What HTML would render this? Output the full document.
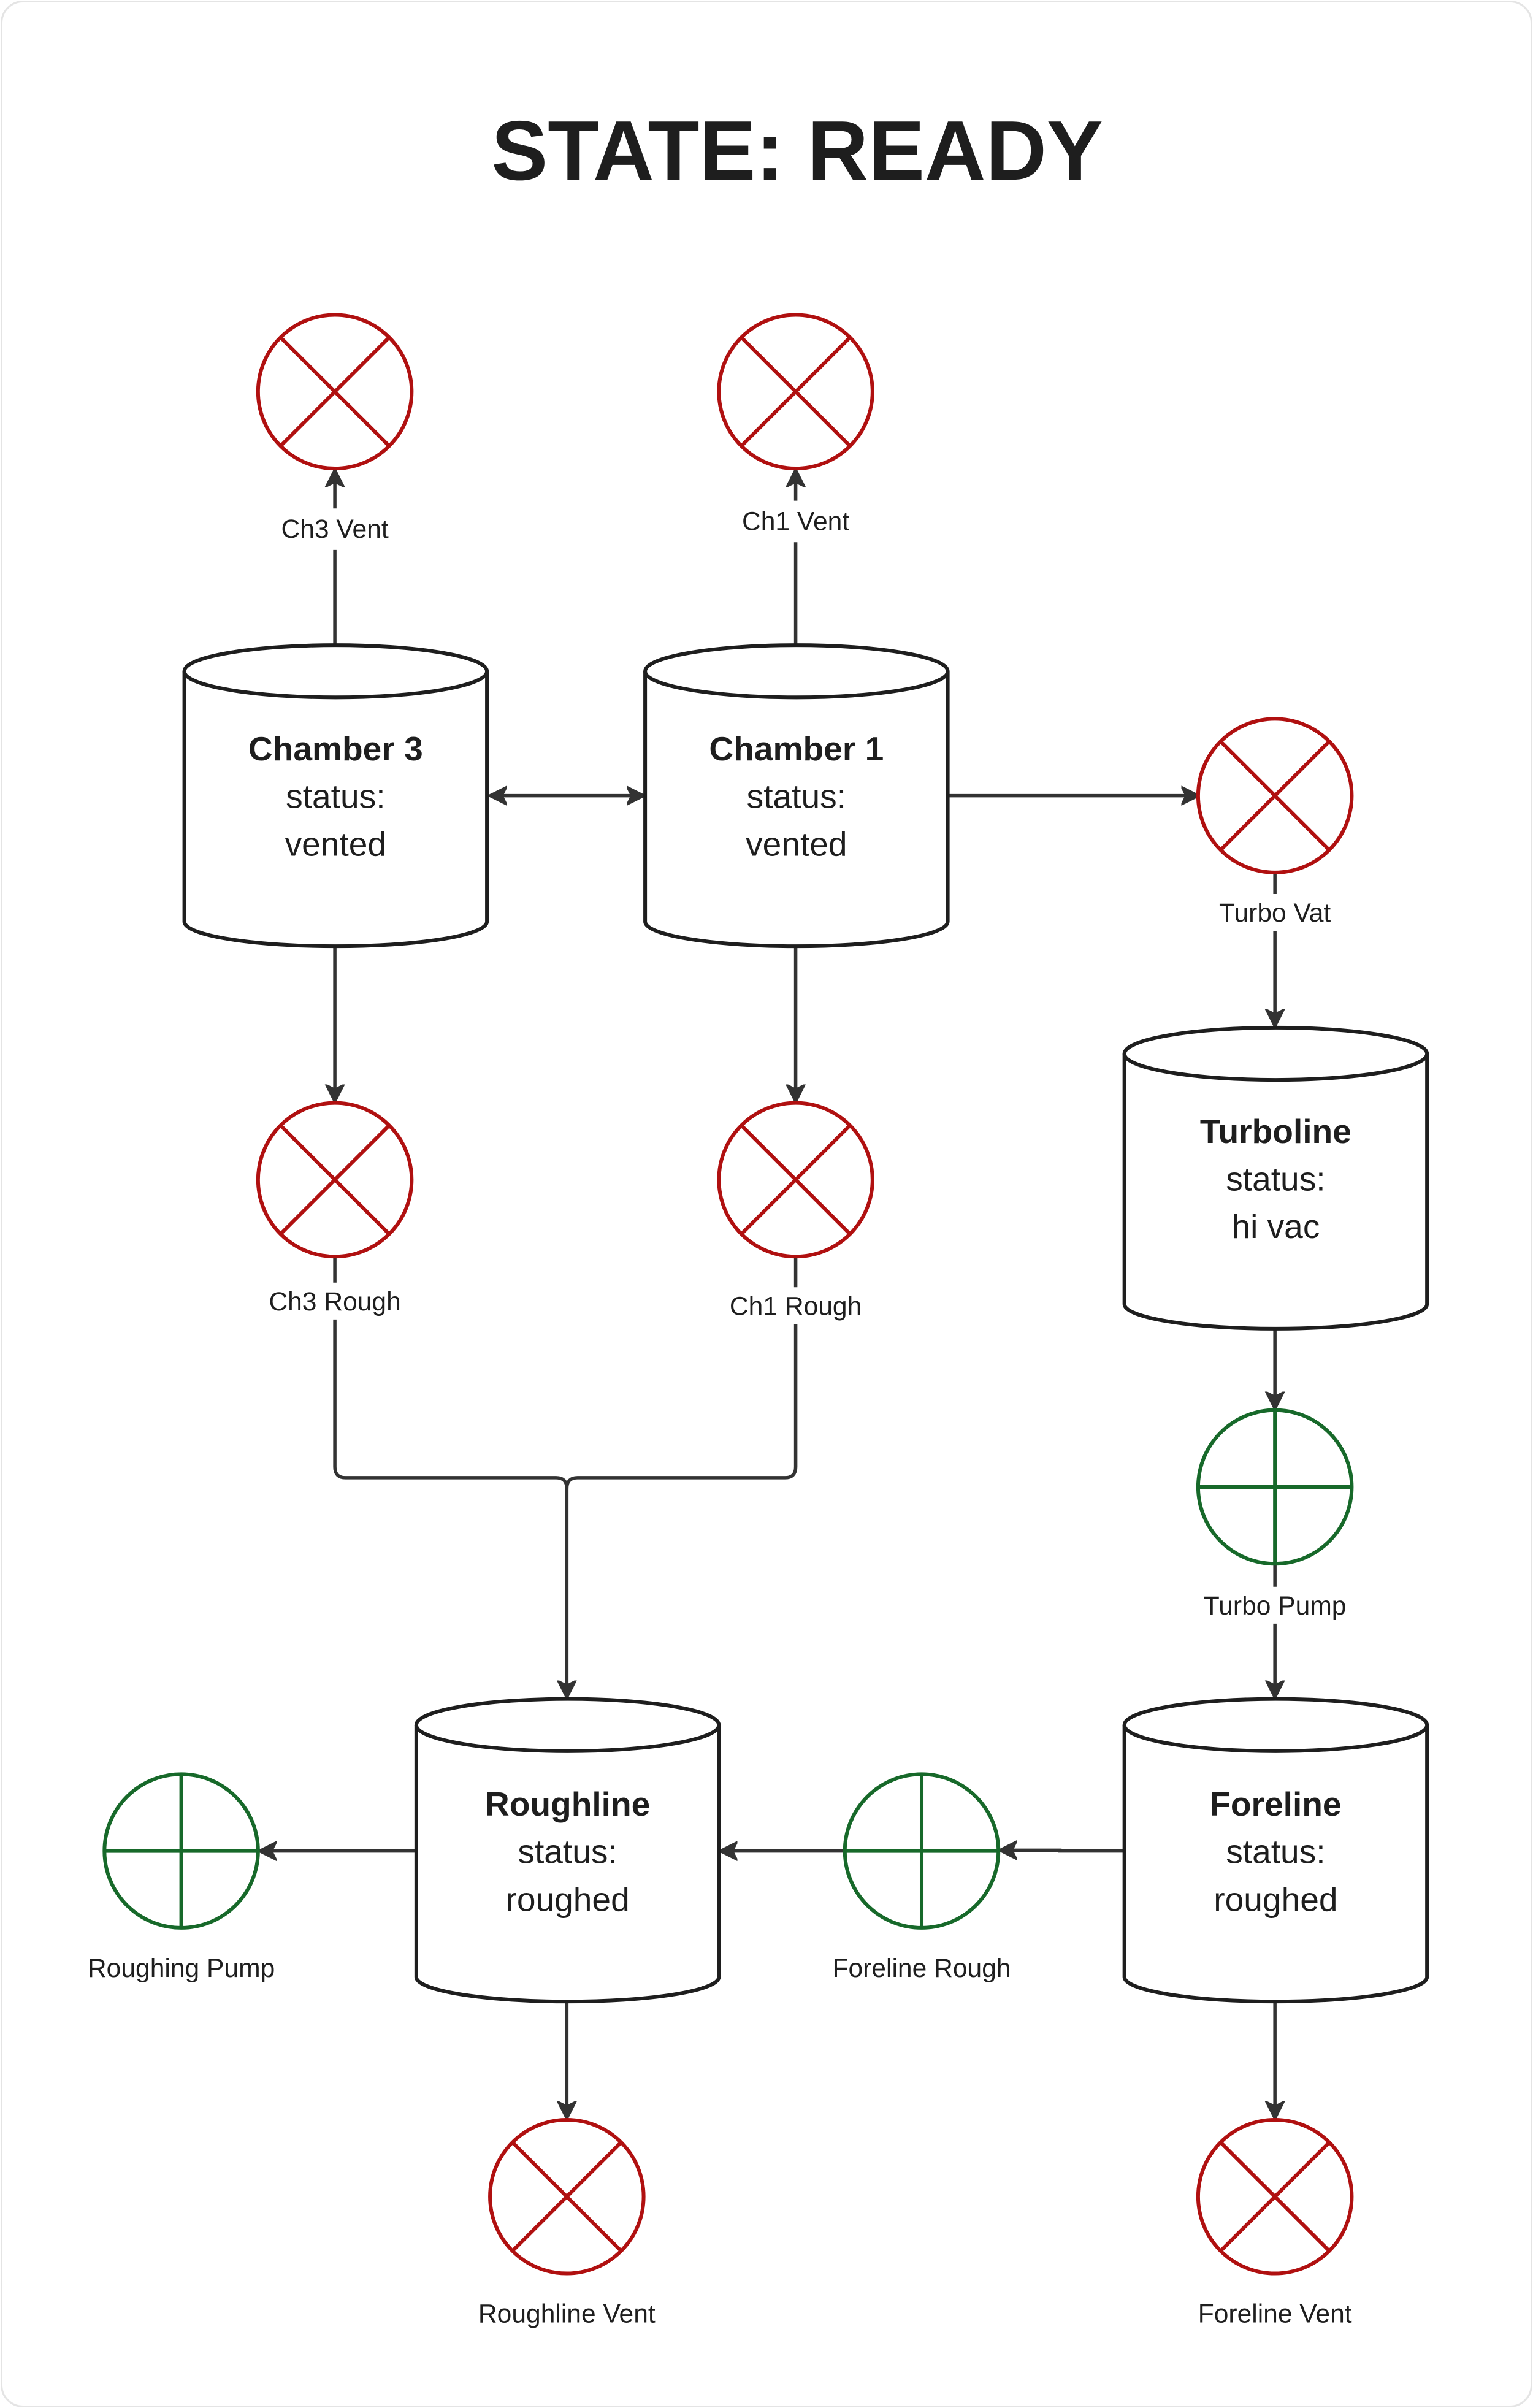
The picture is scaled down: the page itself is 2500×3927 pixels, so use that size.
<!DOCTYPE html>
<html><head><meta charset="utf-8"><style>
html,body{margin:0;padding:0;background:#fff;}
svg{display:block;}
text{font-family:"Liberation Sans",sans-serif;fill:#1e1e1e;}
</style></head><body>
<svg width="2500" height="3927" viewBox="0 0 998 1567.6" preserveAspectRatio="none" xmlns="http://www.w3.org/2000/svg">
<defs>
<marker id="a" viewBox="0 0 12 14" refX="11" refY="7" markerWidth="12" markerHeight="14" markerUnits="userSpaceOnUse" orient="auto-start-reverse">
<path d="M0,1 L12,7 L0,13 L3,7 Z" fill="#333" stroke="#333" stroke-width="1" stroke-linejoin="round"/>
</marker>
</defs>
<rect x="1" y="1" width="996" height="1565.6" rx="14" fill="#fff" stroke="#e4e4e4" stroke-width="1.2"/>
<text x="519" y="117" font-size="55" font-weight="bold" text-anchor="middle" fill="#1e1e1e">STATE: READY</text>

<g stroke="#333" stroke-width="2.2" fill="none">
<path d="M218,420 V358 M218,331 V306" marker-end="url(#a)"/>
<path d="M518,420 V353 M518,326 V306" marker-end="url(#a)"/>
<path d="M319,518 H419" marker-start="url(#a)" marker-end="url(#a)"/>
<path d="M618,518 H780" marker-end="url(#a)"/>
<path d="M830,568 V582 M830,606 V668" marker-end="url(#a)"/>
<path d="M218,617 V717" marker-end="url(#a)"/>
<path d="M518,617 V717" marker-end="url(#a)"/>
<path d="M218,819 V835 M218,859 V955 Q218,962 225,962 H362 Q369,962 369,969"/>
<path d="M518,819 V838 M518,862 V955 Q518,962 511,962 H376 Q369,962 369,969 V1105" marker-end="url(#a)"/>
<path d="M830,866 V917" marker-end="url(#a)"/>
<path d="M830,1019 V1033 M830,1057 V1105" marker-end="url(#a)"/>
<path d="M732,1205 H690 V1204.5 H651" marker-end="url(#a)"/>
<path d="M549,1205 H469" marker-end="url(#a)"/>
<path d="M270,1205 H169" marker-end="url(#a)"/>
<path d="M369,1304 V1379" marker-end="url(#a)"/>
<path d="M830,1304 V1379" marker-end="url(#a)"/>
</g>

<g fill="#fff" stroke="#1e1e1e" stroke-width="2.4">
<path d="M120,437 V600 A98.5,16 0 0 0 317,600 V437"/><ellipse cx="218.5" cy="437" rx="98.5" ry="17"/>
<path d="M420,437 V600 A98.5,16 0 0 0 617,600 V437"/><ellipse cx="518.5" cy="437" rx="98.5" ry="17"/>
<path d="M732,686 V849 A98.5,16 0 0 0 929,849 V686"/><ellipse cx="830.5" cy="686" rx="98.5" ry="17"/>
<path d="M271,1123 V1287 A98.5,16 0 0 0 468,1287 V1123"/><ellipse cx="369.5" cy="1123" rx="98.5" ry="17"/>
<path d="M732,1123 V1287 A98.5,16 0 0 0 929,1287 V1123"/><ellipse cx="830.5" cy="1123" rx="98.5" ry="17"/>
</g>

<g font-size="22" text-anchor="middle">
<text x="218.5" y="495" font-weight="bold">Chamber 3</text><text x="218.5" y="526">status:</text><text x="218.5" y="557">vented</text>
<text x="518.5" y="495" font-weight="bold">Chamber 1</text><text x="518.5" y="526">status:</text><text x="518.5" y="557">vented</text>
<text x="830.5" y="744" font-weight="bold">Turboline</text><text x="830.5" y="775">status:</text><text x="830.5" y="806">hi vac</text>
<text x="369.5" y="1182" font-weight="bold">Roughline</text><text x="369.5" y="1213">status:</text><text x="369.5" y="1244">roughed</text>
<text x="830.5" y="1182" font-weight="bold">Foreline</text><text x="830.5" y="1213">status:</text><text x="830.5" y="1244">roughed</text>
</g>

<g fill="#fff" stroke="#b01010" stroke-width="2.4">
<g transform="translate(218,255)"><circle r="50"/><path d="M-35,-35 L35,35 M35,-35 L-35,35"/></g>
<g transform="translate(518,255)"><circle r="50"/><path d="M-35,-35 L35,35 M35,-35 L-35,35"/></g>
<g transform="translate(830,518)"><circle r="50"/><path d="M-35,-35 L35,35 M35,-35 L-35,35"/></g>
<g transform="translate(218,768)"><circle r="50"/><path d="M-35,-35 L35,35 M35,-35 L-35,35"/></g>
<g transform="translate(518,768)"><circle r="50"/><path d="M-35,-35 L35,35 M35,-35 L-35,35"/></g>
<g transform="translate(369,1430)"><circle r="50"/><path d="M-35,-35 L35,35 M35,-35 L-35,35"/></g>
<g transform="translate(830,1430)"><circle r="50"/><path d="M-35,-35 L35,35 M35,-35 L-35,35"/></g>
</g>
<g fill="#fff" stroke="#17692a" stroke-width="2.4">
<g transform="translate(830,968)"><circle r="50"/><path d="M-50,0 H50 M0,-50 V50"/></g>
<g transform="translate(600,1205)"><circle r="50"/><path d="M-50,0 H50 M0,-50 V50"/></g>
<g transform="translate(118,1205)"><circle r="50"/><path d="M-50,0 H50 M0,-50 V50"/></g>
</g>

<g font-size="17" text-anchor="middle" fill="#333">
<text x="218" y="350">Ch3 Vent</text>
<text x="518" y="345">Ch1 Vent</text>
<text x="830" y="600">Turbo Vat</text>
<text x="218" y="853">Ch3 Rough</text>
<text x="518" y="856">Ch1 Rough</text>
<text x="830" y="1051">Turbo Pump</text>
<text x="118" y="1287">Roughing Pump</text>
<text x="600" y="1287">Foreline Rough</text>
<text x="369" y="1512">Roughline Vent</text>
<text x="830" y="1512">Foreline Vent</text>
</g>
</svg>
</body></html>
